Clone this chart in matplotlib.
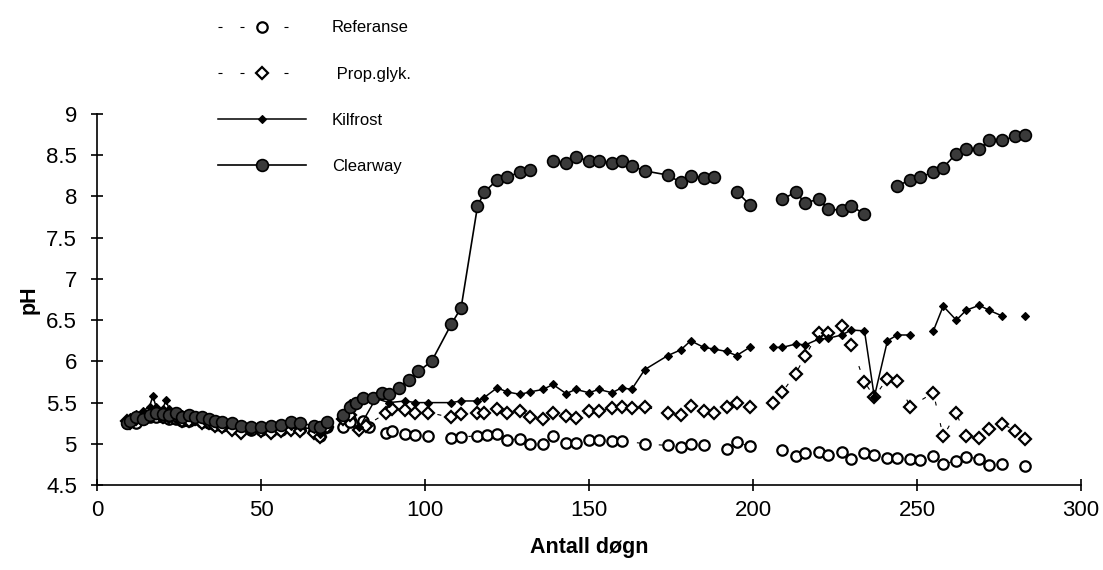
import numpy as np
import matplotlib
matplotlib.use("Agg")
import matplotlib.pyplot as plt

plt.rcParams['font.family'] = ['Liberation Sans', 'DejaVu Sans']

G = np.nan  # gap in a series (line break)

# ---- Data ----
early_days = [9, 10, 12, 14, 16, 18, 20, 22, 24, 26, 28, 30, 32, 34, 36, 38,
              41, 44, 47, 50, 53, 56, 59, 62, 66, 68, 70]

ref_days = early_days + [72, 75, 77, 81, 83, 88, 90, 94, 97, 101, 108, 111, 116, 119,
                         122, 125, 129, 132, 136, 139, 143, 146, 150, 153, 157, 160,
                         167, 174, 178, 181, 185, 192, 195, 199, 204, 209, 213, 216,
                         220, 223, 227, 230, 234, 237, 241, 244, 248, 251, 255, 258,
                         262, 265, 269, 272, 276, 280, 283]
ref_vals = [5.25, 5.28, 5.25, 5.30, 5.33, 5.32, 5.33, 5.30, 5.30, 5.28, 5.28, 5.30,
            5.27, 5.25, 5.23, 5.22, 5.20, 5.17, 5.17, 5.17, 5.15, 5.17, 5.20, 5.18,
            5.15, 5.10, 5.20,
            G, 5.20, 5.27, 5.28, 5.20, 5.13, 5.15, 5.12, 5.11, 5.10, 5.07, 5.08, 5.10,
            5.11, 5.12, 5.05, 5.06, 5.00, 5.00, 5.09, 5.01, 5.01, 5.05, 5.05, 5.04,
            5.04, 5.00, 4.98, 4.96, 5.00, 4.98, 4.94, 5.02, 4.97, G, 4.92, 4.85,
            4.89, 4.90, 4.87, 4.90, 4.82, 4.89, 4.86, 4.83, 4.83, 4.82, 4.80, 4.85,
            4.76, 4.79, 4.84, 4.82, 4.74, 4.75, G, 4.73]

prop_days = early_days + [72, 75, 77, 80, 82, 88, 90, 94, 97, 101, 108, 111, 116, 118,
                          122, 125, 129, 132, 136, 139, 143, 146, 150, 153, 157, 160,
                          163, 167, 174, 178, 181, 185, 188, 192, 195, 199, 206, 209,
                          213, 216, 220, 223, 227, 230, 234, 237, 241, 244, 248, 255,
                          258, 262, 265, 269, 272, 276, 280, 283]
prop_vals = [5.28, 5.25, 5.30, 5.32, 5.35, 5.38, 5.33, 5.32, 5.33, 5.28, 5.28, 5.30,
             5.25, 5.25, 5.22, 5.20, 5.17, 5.13, 5.18, 5.15, 5.13, 5.15, 5.17, 5.15,
             5.13, 5.08, 5.20,
             G, 5.30, 5.35, 5.17, 5.22, 5.37, 5.42, 5.41, 5.38, 5.38, 5.32, 5.36, 5.38,
             5.37, 5.42, 5.37, 5.40, 5.33, 5.30, 5.37, 5.34, 5.31, 5.40, 5.40, 5.43,
             5.45, 5.43, 5.45, 5.38, 5.35, 5.46, 5.40, 5.37, 5.45, 5.50, 5.45, 5.50,
             5.63, 5.85, 6.07, 6.35, 6.35, 6.43, 6.20, 5.75, 5.57, 5.79, 5.76, 5.45,
             5.62, 5.09, 5.37, 5.09, 5.07, 5.18, 5.24, 5.16, 5.06]

kil_days = early_days[:5] + [17] + early_days[5:7] + [21] + early_days[7:] + \
           [72, 75, 77, 80, 85, 89, 94, 97, 101, 108, 111, 116, 118, 122, 125, 129,
            132, 136, 139, 143, 146, 150, 153, 157, 160, 163, 167, 174, 178, 181,
            185, 188, 192, 195, 199, 203, 206, 209, 213, 216, 220, 223, 227, 230,
            234, 237, 241, 244, 248, 251, 255, 258, 262, 265, 269, 272, 276, 280, 283]
kil_vals = [5.30, 5.33, 5.36, 5.40, 5.45, 5.58, 5.45, 5.42, 5.53, 5.42, 5.38, 5.36,
            5.33, 5.33, 5.32, 5.30, 5.28, 5.25, 5.23, 5.22, 5.20, 5.20, 5.20, 5.22,
            5.22, 5.20, 5.18, 5.12, 5.25,
            G, 5.38, 5.50, 5.20, 5.55, 5.50, 5.52, 5.50, 5.50, 5.50, 5.52, 5.52,
            5.56, 5.68, 5.63, 5.60, 5.63, 5.66, 5.72, 5.61, 5.66, 5.62, 5.66, 5.62,
            5.68, 5.66, 5.90, 6.07, 6.14, 6.25, 6.17, 6.15, 6.12, 6.07, 6.17, G,
            6.17, 6.17, 6.21, 6.20, 6.27, 6.28, 6.32, 6.38, 6.37, 5.57, 6.25, 6.32,
            6.32, G, 6.37, 6.67, 6.50, 6.62, 6.68, 6.62, 6.55, G, 6.55]

clear_days = early_days + [72, 75, 77, 79, 81, 84, 87, 89, 92, 95, 98, 102, 108, 111,
                           116, 118, 122, 125, 129, 132, 136, 139, 143, 146, 150, 153,
                           157, 160, 163, 167, 174, 178, 181, 185, 188, 192, 195, 199,
                           204, 209, 213, 216, 220, 223, 227, 230, 234, 240, 244, 248,
                           251, 255, 258, 262, 265, 269, 272, 276, 280, 283]
clear_vals = [5.25, 5.28, 5.32, 5.30, 5.35, 5.38, 5.36, 5.35, 5.37, 5.33, 5.35, 5.32,
              5.33, 5.30, 5.28, 5.27, 5.25, 5.22, 5.21, 5.20, 5.22, 5.23, 5.26, 5.25,
              5.22, 5.20, 5.27,
              G, 5.35, 5.45, 5.50, 5.55, 5.55, 5.62, 5.60, 5.68, 5.78, 5.88, 6.00,
              6.45, 6.65, 7.88, 8.05, 8.20, 8.23, 8.30, 8.32, G, 8.43, 8.40, 8.48,
              8.43, 8.43, 8.40, 8.43, 8.37, 8.31, 8.26, 8.17, 8.25, 8.22, 8.23, G,
              8.06, 7.90, G, 7.97, 8.05, 7.92, 7.97, 7.85, 7.83, 7.88, 7.79, G,
              8.13, 8.20, 8.23, 8.30, 8.35, 8.52, 8.57, 8.57, 8.68, 8.68, 8.73, 8.75]

series_names = ["Referanse", " Prop.glyk.", "Kilfrost", "Clearway"]
x_ticks = [0, 50, 100, 150, 200, 250, 300]
y_ticks = [4.5, 5, 5.5, 6, 6.5, 7, 7.5, 8, 8.5, 9]
y_ticklabels = ["4.5", "5", "5.5", "6", "6.5", "7", "7.5", "8", "8.5", "9"]

# ---- Figure ----
fig = plt.figure(figsize=(11.03, 5.70), dpi=100)
ax = fig.add_axes([0.088, 0.149, 0.892, 0.651])

dash = (3.6, 16.2)
ax.plot(ref_days, ref_vals, color='black', lw=0.8, dashes=dash,
        marker='o', ms=7.5, mfc='white', mec='black', mew=1.6,
        label=series_names[0], zorder=3)
ax.plot(prop_days, prop_vals, color='black', lw=0.8, dashes=dash,
        marker='D', ms=6.3, mfc='white', mec='black', mew=1.6,
        label=series_names[1], zorder=4)
ax.plot(kil_days, kil_vals, color='black', lw=1.1,
        marker='D', ms=4.3, mfc='black', mec='black', mew=0.8,
        label=series_names[2], zorder=5)
ax.plot(clear_days, clear_vals, color='black', lw=1.2,
        marker='o', ms=8.5, mfc='#3a3a3a', mec='black', mew=1.2,
        label=series_names[3], zorder=6)

ax.set_xlim(0, 300)
ax.set_ylim(4.5, 9)
ax.set_xticks(x_ticks)
ax.set_yticks(y_ticks)
ax.set_yticklabels(y_ticklabels)
for s in ['top', 'right']:
    ax.spines[s].set_visible(False)
for s in ['left', 'bottom']:
    ax.spines[s].set_linewidth(1.2)
ax.tick_params(axis='both', direction='inout', length=9, width=1.2,
               labelsize=16, pad=6)
ax.tick_params(axis='y', pad=10)

ax.set_xlabel("Antall døgn", fontsize=15.5, fontweight='bold')
ax.set_ylabel("pH", fontsize=15.5, fontweight='bold')
ax.xaxis.set_label_coords(0.5, -0.14)
ax.yaxis.set_label_coords(-0.058, 0.5)

fig.legend(loc='upper left', bbox_to_anchor=(0.192, 0.976), frameon=False,
           fontsize=12, handlelength=5.25, handletextpad=1.55, labelspacing=1.87,
           borderaxespad=0)

fig.savefig("out.png", dpi=100)
